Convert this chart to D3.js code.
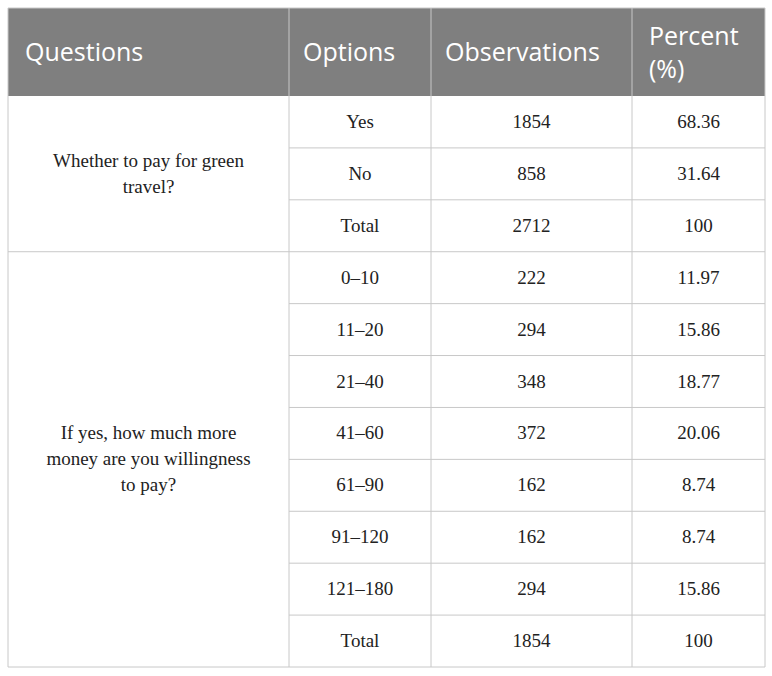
<!DOCTYPE html><html><head><meta charset="utf-8"><script src="https://cdn.jsdelivr.net/npm/d3@7"></script>
<style>body{margin:0;background:#fff}</style></head><body><svg id="c" width="772" height="676"></svg>
<script>
const headers=["Questions","Options","Observations","Percent (%)"];
const questions=[["Whether to pay for green","travel?"],["If yes, how much more","money are you willingness","to pay?"]];
const groupSizes=[3,8];
const options=["Yes","No","Total","0–10","11–20","21–40","41–60","61–90","91–120","121–180","Total"];
const observations=[1854,858,2712,222,294,348,372,162,162,294,1854];
const percents=["68.36","31.64","100","11.97","15.86","18.77","20.06","8.74","8.74","15.86","100"];
(function(){
const svg=d3.select("#c");
const colX=[8,289,431,632,765];
const tableTop=8,headH=88,bottom=667;
const y=d3.scaleLinear().domain([0,options.length]).range([tableTop+headH,bottom]);
const line="#c8c8c8";
svg.append("rect").attr("x",8).attr("y",tableTop).attr("width",757).attr("height",headH).attr("fill","#7f7f7f");
const hf="'Open Sans', sans-serif";
headers.forEach((h,i)=>{
  const t=svg.append("text").attr("fill","#fff").attr("font-family",hf).attr("font-size",25);
  if(i==3){t.append("tspan").attr("x",colX[i]+17).attr("y",45).text("Percent");t.append("tspan").attr("x",colX[i]+17).attr("y",78).text("(%)");}
  else t.attr("x",colX[i]+(i==0?17:14)).attr("y",61).text(h);
});
const sf="'Liberation Serif', serif";
options.forEach((o,i)=>{
  const cy=(y(i)+y(i+1))/2+6;
  [o,observations[i],percents[i]].forEach((v,j)=>{
    svg.append("text").attr("x",(colX[j+1]+colX[j+2])/2).attr("y",cy).attr("text-anchor","middle").attr("font-family",sf).attr("font-size",19).attr("fill","#222").text(v);
  });
});
let start=0;
groupSizes.forEach((n,g)=>{
  const mid=(y(start)+y(start+n))/2;const L=questions[g];
  L.forEach((s,k)=>svg.append("text").attr("x",(colX[0]+colX[1])/2).attr("y",mid+6+(k-(L.length-1)/2)*26).attr("text-anchor","middle").attr("font-family",sf).attr("font-size",19).attr("fill","#222").text(s));
  start+=n;
});
for(let i=1;i<=options.length;i++){
  const x0=(i===3||i===11)?colX[0]:colX[1];
  svg.append("line").attr("x1",x0).attr("x2",colX[4]).attr("y1",y(i)).attr("y2",y(i)).attr("stroke",line);
}
colX.forEach(x=>svg.append("line").attr("x1",x).attr("x2",x).attr("y1",tableTop).attr("y2",bottom).attr("stroke",line));
svg.append("line").attr("x1",colX[0]).attr("x2",colX[4]).attr("y1",tableTop).attr("y2",tableTop).attr("stroke",line);
})();
</script></body></html>
